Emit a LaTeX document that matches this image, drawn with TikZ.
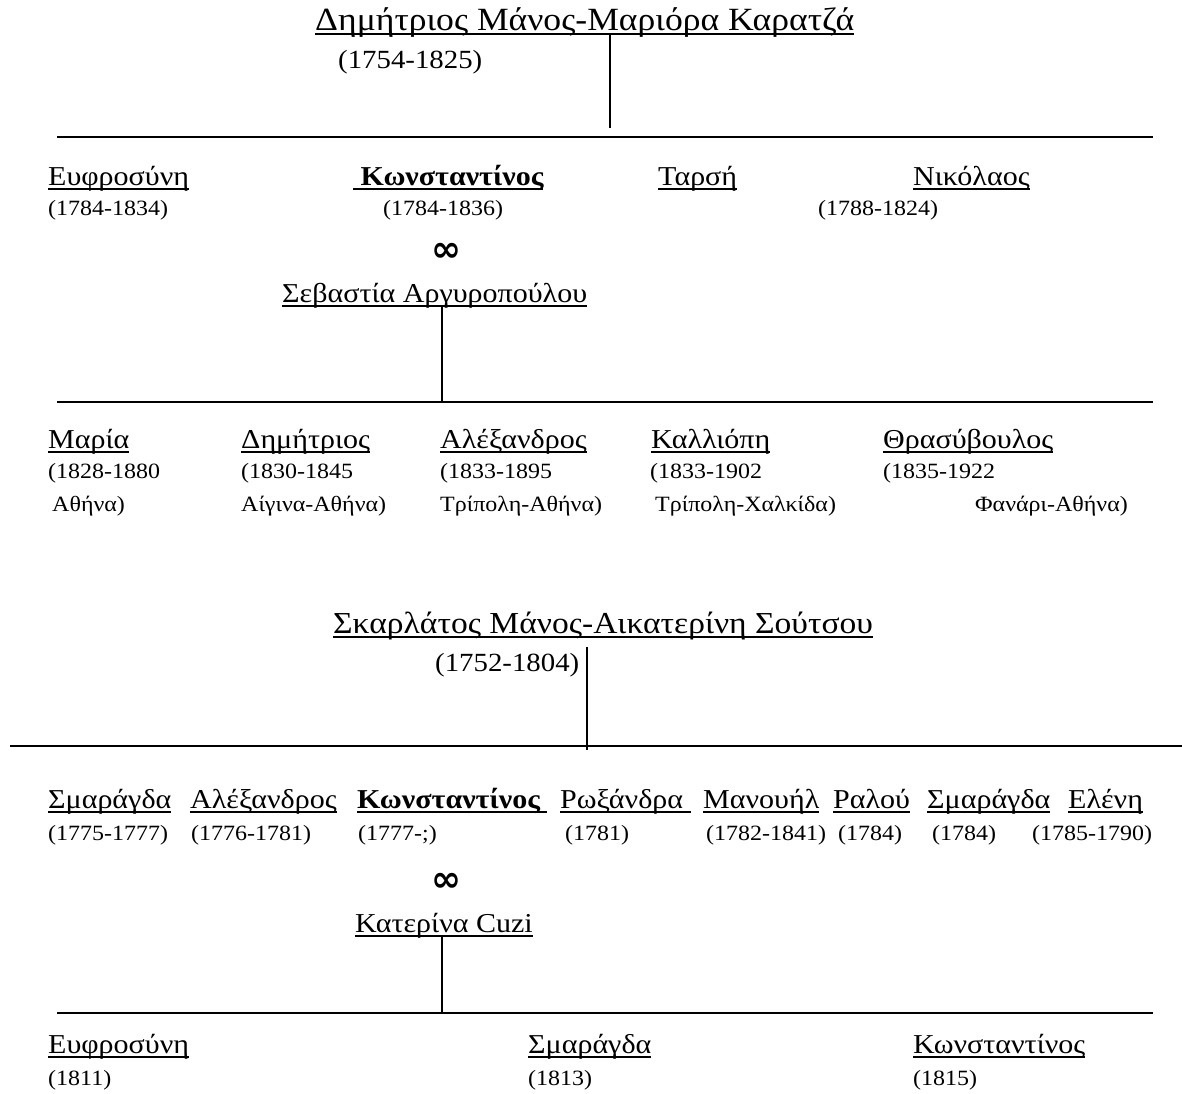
\documentclass[tikz,border=0pt]{standalone}
\usepackage{fontspec}
\setmainfont{Liberation Serif}[FakeStretch=1.1]
\newfontfamily\symf{DejaVu Sans}
\newcommand\ulx[1]{\setbox0\hbox{#1}\rlap{\vrule height -3pt depth 4.8pt width\wd0}\box0}
\begin{document}
\begin{tikzpicture}[x=1pt,y=-1pt,
  nm/.style={anchor=base west,inner sep=0pt,font=\fontsize{27.3}{30}\selectfont},
  ttla/.style={anchor=base west,inner sep=0pt,font=\fontsize{32.4}{34}\selectfont},
  ttlb/.style={anchor=base west,inner sep=0pt,font=\fontsize{30.5}{33}\selectfont},
  dt/.style={anchor=base west,inner sep=0pt,font=\fontsize{21.8}{24}\selectfont},
  bigdt/.style={anchor=base west,inner sep=0pt,font=\fontsize{26.2}{28}\selectfont},
  marr/.style={anchor=center,inner sep=0pt,font=\symf\fontsize{36}{38}\selectfont\bfseries},
  hl/.style={line width=2pt},
  vl/.style={line width=1.6pt}]
\useasboundingbox (0,0) rectangle (1182,1093);

% ---------- Section 1 ----------
\node[ttla] (t1) at (315,30) {\ulx{Δημήτριος Μάνος-Μαριόρα Καρατζά}};
\node[bigdt] (t1d) at (338,68) {(1754-1825)};
\coordinate (h1a) at (57,137);
\coordinate (h1b) at (1153,137);
\coordinate (v1a) at (610,34);
\coordinate (v1b) at (610,128);
\draw[hl] (h1a) -- (h1b);
\draw[vl] (v1a) -- (v1b);

\node[nm] (a1) at (48,185) {\ulx{Ευφροσύνη}};
\node[nm] (a2) at (353,185) {\ulx{\bfseries\ Κωνσταντίνος}};
\node[nm] (a3) at (658,185) {\ulx{Ταρσή}};
\node[nm] (a4) at (913,185) {\ulx{Νικόλαος}};
\node[dt] (a1d) at (48,215) {(1784-1834)};
\node[dt] (a2d) at (383,215) {(1784-1836)};
\node[dt] (a4d) at (818,215) {(1788-1824)};
\node[marr] (m1) at (446,252) {∞};
\node[nm] (s1) at (282,302) {\ulx{Σεβαστία Αργυροπούλου}};
\coordinate (v2a) at (442,306);
\coordinate (v2b) at (442,401);
\coordinate (h2a) at (57,402);
\coordinate (h2b) at (1153,402);
\draw[vl] (v2a) -- (v2b);
\draw[hl] (h2a) -- (h2b);

\node[nm] (b1) at (48,448) {\ulx{Μαρία}};
\node[nm] (b2) at (241,448) {\ulx{Δημήτριος}};
\node[nm] (b3) at (440,448) {\ulx{Αλέξανδρος}};
\node[nm] (b4) at (651,448) {\ulx{Καλλιόπη}};
\node[nm] (b5) at (883,448) {\ulx{Θρασύβουλος}};
\node[dt] (b1d) at (48,478) {(1828-1880};
\node[dt] (b2d) at (241,478) {(1830-1845};
\node[dt] (b3d) at (440,478) {(1833-1895};
\node[dt] (b4d) at (650,478) {(1833-1902};
\node[dt] (b5d) at (883,478) {(1835-1922};
\node[dt] (b1p) at (52,511) {Αθήνα)};
\node[dt] (b2p) at (241,511) {Αίγινα-Αθήνα)};
\node[dt] (b3p) at (440,511) {Τρίπολη-Αθήνα)};
\node[dt] (b4p) at (655,511) {Τρίπολη-Χαλκίδα)};
\node[dt] (b5p) at (975,511) {Φανάρι-Αθήνα)};

% ---------- Section 2 ----------
\node[ttlb] (t2) at (333,633) {\ulx{Σκαρλάτος Μάνος-Αικατερίνη Σούτσου}};
\node[bigdt] (t2d) at (435,671) {(1752-1804)};
\coordinate (v3a) at (587,647);
\coordinate (v3b) at (587,750);
\coordinate (h3a) at (10,746);
\coordinate (h3b) at (1182,746);
\draw[hl] (h3a) -- (h3b);
\draw[vl] (v3a) -- (v3b);

\node[nm] (c1) at (48,808) {\ulx{Σμαράγδα}};
\node[nm] (c2) at (190,808) {\ulx{Αλέξανδρος}};
\node[nm] (c3) at (357,808) {\ulx{\bfseries Κωνσταντίνος\ }};
\node[nm] (c4) at (560,808) {\ulx{Ρωξάνδρα\ }};
\node[nm] (c5) at (703,808) {\ulx{Μανουήλ}};
\node[nm] (c6) at (833,808) {\ulx{Ραλού}};
\node[nm] (c7) at (927,808) {\ulx{Σμαράγδα}};
\node[nm] (c8) at (1068,808) {\ulx{Ελένη}};
\node[dt] (c1d) at (48,840) {(1775-1777)};
\node[dt] (c2d) at (191,840) {(1776-1781)};
\node[dt] (c3d) at (358,840) {(1777-;)};
\node[dt] (c4d) at (565,840) {(1781)};
\node[dt] (c5d) at (706,840) {(1782-1841)};
\node[dt] (c6d) at (838,840) {(1784)};
\node[dt] (c7d) at (932,840) {(1784)};
\node[dt] (c8d) at (1032,840) {(1785-1790)};
\node[marr] (m2) at (446,882) {∞};
\node[nm] (s2) at (355,932) {\ulx{Κατερίνα Cuzi}};
\coordinate (v4a) at (442,937);
\coordinate (v4b) at (442,1012);
\coordinate (h4a) at (57,1013);
\coordinate (h4b) at (1153,1013);
\draw[vl] (v4a) -- (v4b);
\draw[hl] (h4a) -- (h4b);

\node[nm] (d1) at (48,1053) {\ulx{Ευφροσύνη}};
\node[nm] (d2) at (528,1053) {\ulx{Σμαράγδα}};
\node[nm] (d3) at (913,1053) {\ulx{Κωνσταντίνος}};
\node[dt] (d1d) at (48,1085) {(1811)};
\node[dt] (d2d) at (528,1085) {(1813)};
\node[dt] (d3d) at (913,1085) {(1815)};
\end{tikzpicture}
\end{document}
